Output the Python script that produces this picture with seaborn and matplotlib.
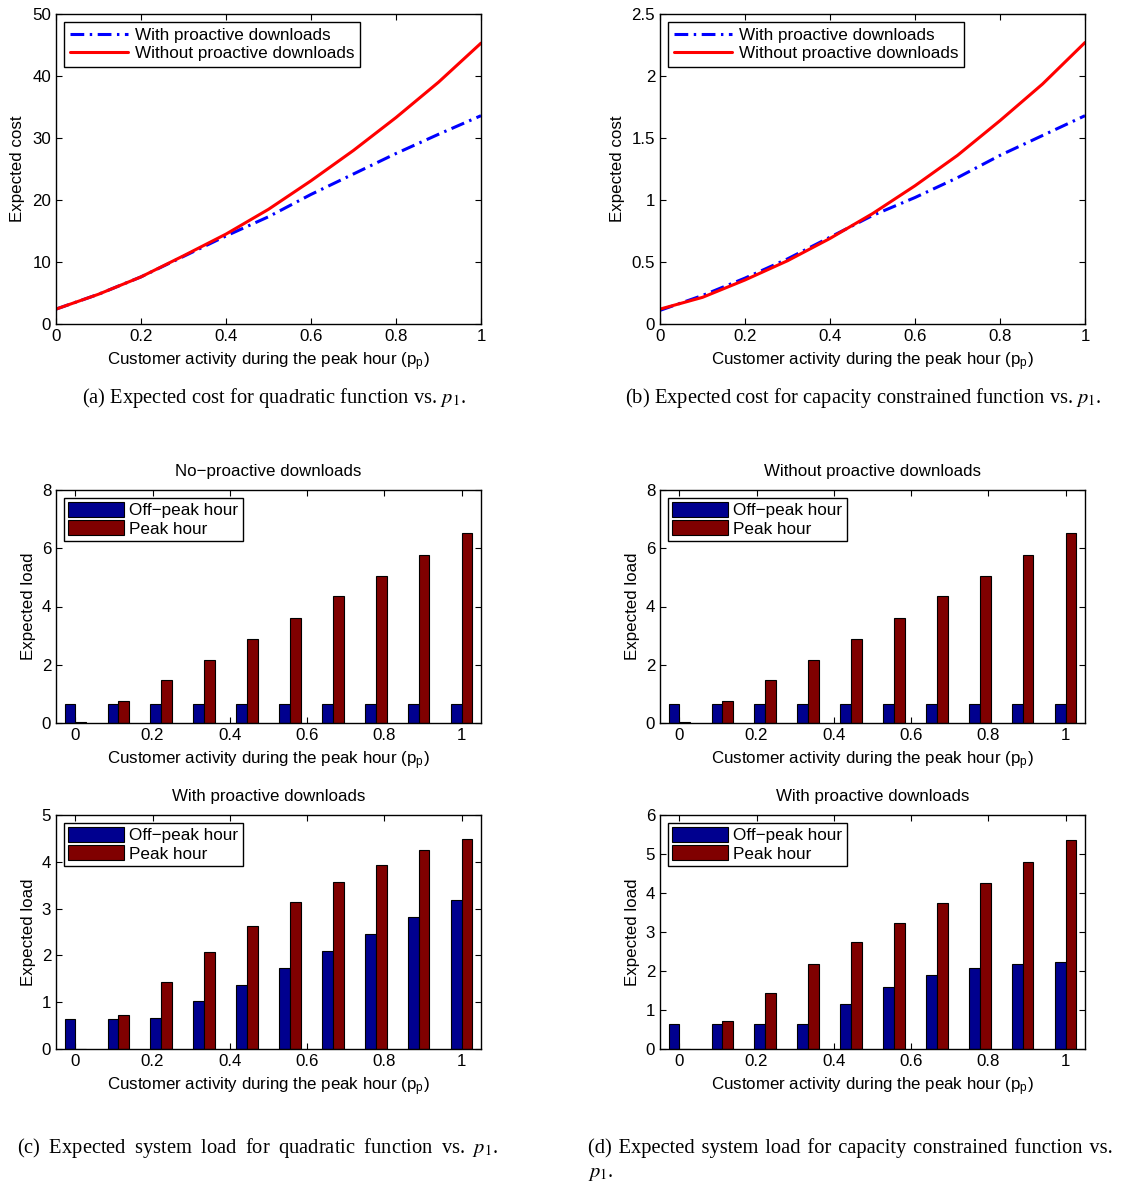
import numpy as np
import pandas as pd
import matplotlib
matplotlib.use("Agg")
import matplotlib.pyplot as plt
import seaborn as sns

# ---------------- data ----------------
p_line = [0.0, 0.1, 0.2, 0.3, 0.4, 0.5, 0.6, 0.7, 0.8, 0.9, 1.0]
cost_quad_with = [2.4, 4.8, 7.6, 10.9, 14.2, 17.3, 20.9, 24.2, 27.5, 30.6, 33.6]
cost_quad_without = [2.4, 4.8, 7.6, 11.0, 14.5, 18.5, 23.1, 28.0, 33.3, 39.0, 45.3]
cost_cap_with = [0.11, 0.23, 0.37, 0.525, 0.70, 0.875, 1.02, 1.18, 1.36, 1.52, 1.68]
cost_cap_without = [0.12, 0.215, 0.355, 0.51, 0.69, 0.89, 1.115, 1.36, 1.64, 1.935, 2.27]

p_bar = [0.0, 0.1111, 0.2222, 0.3333, 0.4444, 0.5556, 0.6667, 0.7778, 0.8889, 1.0]
noproactive_off = [0.65, 0.65, 0.65, 0.65, 0.65, 0.65, 0.65, 0.65, 0.65, 0.65]
noproactive_peak = [0.02, 0.74, 1.46, 2.17, 2.90, 3.62, 4.35, 5.06, 5.78, 6.51]
quad_pro_off = [0.64, 0.65, 0.67, 1.02, 1.37, 1.73, 2.09, 2.45, 2.81, 3.19]
quad_pro_peak = [0.01, 0.73, 1.44, 2.07, 2.63, 3.14, 3.57, 3.93, 4.25, 4.48]
cap_pro_off = [0.64, 0.64, 0.64, 0.64, 1.16, 1.60, 1.90, 2.08, 2.18, 2.24]
cap_pro_peak = [0.01, 0.73, 1.44, 2.17, 2.74, 3.23, 3.74, 4.25, 4.80, 5.35]

line_labels = ["With proactive downloads", "Without proactive downloads"]
bar_labels = ["Off\u2212peak hour", "Peak hour"]
x_ticks = [0, 0.2, 0.4, 0.6, 0.8, 1]
x_ticklabels = ["0", "0.2", "0.4", "0.6", "0.8", "1"]
xlabel = r"Customer activity during the peak hour (p$_{\mathregular{p}}$)"

# ---------------- style ----------------
sns.set_theme(style="ticks")
FS = 12.2
plt.rcParams.update({
    "font.family": ["Liberation Sans", "DejaVu Sans"],
    "mathtext.fontset": "stix",
    "xtick.direction": "in", "ytick.direction": "in",
    "xtick.top": True, "ytick.right": True,
    "xtick.major.size": 4, "ytick.major.size": 4,
    "xtick.major.width": 0.8, "ytick.major.width": 0.8,
    "axes.linewidth": 1.0, "axes.edgecolor": "black",
    "xtick.color": "black", "ytick.color": "black",
    "axes.labelcolor": "black", "text.color": "black",
    "font.size": FS, "axes.labelsize": FS,
    "xtick.labelsize": FS, "ytick.labelsize": FS,
    "axes.titlesize": FS,
})
LEG_FS = 12.3

W, H = 1121, 1184
fig = plt.figure(figsize=(W / 100, H / 100), dpi=100)


def add_ax(x0, x1, y0, y1):
    return fig.add_axes([x0 / W, 1 - y1 / H, (x1 - x0) / W, (y1 - y0) / H])


def line_panel(ax, with_vals, without_vals, yticks, yticklabels):
    df = pd.DataFrame({
        "p": p_line * 2,
        "cost": with_vals + without_vals,
        "series": [line_labels[0]] * len(p_line) + [line_labels[1]] * len(p_line),
    })
    sns.lineplot(data=df, x="p", y="cost", hue="series", style="series",
                 hue_order=line_labels, style_order=line_labels,
                 palette={line_labels[0]: "#0000FF", line_labels[1]: "#FF0000"},
                 dashes={line_labels[0]: (4.5, 1.8, 0.8, 1.8), line_labels[1]: ""},
                 linewidth=2.2, ax=ax)
    ax.set_xlim(0, 1)
    ax.set_ylim(yticks[0], yticks[-1])
    ax.set_xticks(x_ticks)
    ax.set_xticklabels(x_ticklabels)
    ax.set_yticks(yticks)
    ax.set_yticklabels(yticklabels)
    ax.set_xlabel(xlabel, labelpad=5)
    ax.set_ylabel("Expected cost", labelpad=5)
    handles, labels = ax.get_legend_handles_labels()
    pairs = [(h, l) for h, l in zip(handles, labels) if l in line_labels]
    leg = ax.legend([h for h, _ in pairs], [l for _, l in pairs], loc="upper left",
                    fontsize=LEG_FS, fancybox=False, edgecolor="black", framealpha=1,
                    handlelength=3.4, borderpad=0.35, labelspacing=0.2,
                    handletextpad=0.4, borderaxespad=0.45)
    leg.get_frame().set_linewidth(1.0)


def bar_panel(ax, off_vals, peak_vals, yticks, title):
    df = pd.DataFrame({
        "p": p_bar * 2,
        "load": off_vals + peak_vals,
        "hour": [bar_labels[0]] * len(p_bar) + [bar_labels[1]] * len(p_bar),
    })
    sns.barplot(data=df, x="p", y="load", hue="hour", hue_order=bar_labels,
                palette={bar_labels[0]: "#00008F", bar_labels[1]: "#800000"},
                saturation=1, native_scale=True, width=0.5, errorbar=None,
                edgecolor="black", linewidth=0.8, ax=ax)
    ax.set_xlim(-0.05, 1.05)
    ax.set_ylim(yticks[0], yticks[-1])
    ax.set_xticks(x_ticks)
    ax.set_xticklabels(x_ticklabels)
    ax.set_yticks(yticks)
    ax.set_yticklabels([str(t) for t in yticks])
    ax.set_xlabel(xlabel, labelpad=5)
    ax.set_ylabel("Expected load", labelpad=4)
    ax.set_title(title, pad=10)
    handles, labels = ax.get_legend_handles_labels()
    pairs = [(h, l) for h, l in zip(handles, labels) if l in bar_labels]
    leg = ax.legend([h for h, _ in pairs], [l for _, l in pairs], loc="upper left",
                    fontsize=LEG_FS, fancybox=False, edgecolor="black", framealpha=1,
                    handlelength=3.3, handleheight=1.0, borderpad=0.25,
                    labelspacing=0.1, handletextpad=0.3, borderaxespad=0.45)
    leg.get_frame().set_linewidth(1.0)


ax_a = add_ax(56, 481, 14, 324)
line_panel(ax_a, cost_quad_with, cost_quad_without,
           [0, 10, 20, 30, 40, 50], ["0", "10", "20", "30", "40", "50"])
ax_b = add_ax(660, 1085, 14, 324)
line_panel(ax_b, cost_cap_with, cost_cap_without,
           [0, 0.5, 1, 1.5, 2, 2.5], ["0", "0.5", "1", "1.5", "2", "2.5"])

ax_c1 = add_ax(56, 481, 490, 723)
bar_panel(ax_c1, noproactive_off, noproactive_peak, [0, 2, 4, 6, 8],
          "No\u2212proactive downloads")
ax_c2 = add_ax(56, 481, 815, 1049)
bar_panel(ax_c2, quad_pro_off, quad_pro_peak, [0, 1, 2, 3, 4, 5],
          "With proactive downloads")
ax_d1 = add_ax(660, 1085, 490, 723)
bar_panel(ax_d1, noproactive_off, noproactive_peak, [0, 2, 4, 6, 8],
          "Without proactive downloads")
ax_d2 = add_ax(660, 1085, 815, 1049)
bar_panel(ax_d2, cap_pro_off, cap_pro_peak, [0, 1, 2, 3, 4, 5, 6],
          "With proactive downloads")

cap_kw = dict(family=["Liberation Serif", "DejaVu Serif"], fontsize=14.8, va="baseline")
fig.text(274 / W, 1 - 403 / H, r"(a) Expected cost for quadratic function vs. $p_1$.",
         ha="center", **cap_kw)
fig.text(863 / W, 1 - 403 / H, r"(b) Expected cost for capacity constrained function vs. $p_1$.",
         ha="center", **cap_kw)
sp = " \u2009"
cap_c = sp.join("(c) Expected system load for quadratic function vs.".split(" "))
cap_d = " \u200a".join("(d) Expected system load for capacity constrained function vs.".split(" "))
fig.text(17 / W, 1 - 1153 / H, cap_c + sp + r"$p_1$.", ha="left", **cap_kw)
fig.text(588 / W, 1 - 1153 / H, cap_d, ha="left", **cap_kw)
fig.text(588 / W, 1 - 1177 / H, r"$p_1$.", ha="left", **cap_kw)

fig.savefig("out.png", dpi=100)
